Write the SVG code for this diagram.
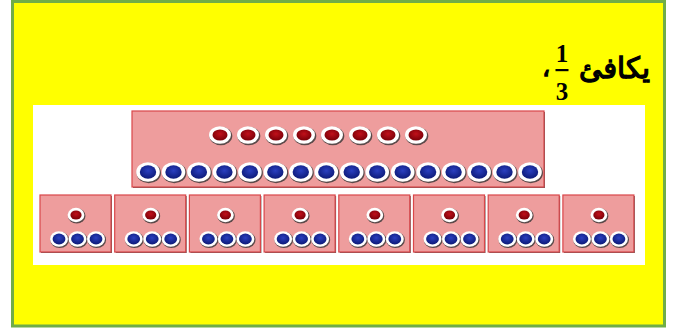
<svg xmlns="http://www.w3.org/2000/svg" xmlns:xlink="http://www.w3.org/1999/xlink" width="673" height="332" viewBox="0 0 673 332">
<style>
.box{fill:#EE9D9D;stroke:#D9474A;stroke-width:1.2}
.shadow{fill:#6b5a5a}
.ar{font-family:"DejaVu Sans",sans-serif;font-weight:normal;fill:#000;stroke:#000;stroke-width:1.3}
.num{font-family:"Liberation Serif",serif;font-weight:bold;font-size:25px;fill:#000;text-anchor:middle}
</style>
<defs>
<radialGradient id="gr" cx="50%" cy="40%" r="60%">
<stop offset="0" stop-color="#C0101A"/><stop offset="1" stop-color="#7A0008"/>
</radialGradient>
<radialGradient id="gb" cx="50%" cy="40%" r="60%">
<stop offset="0" stop-color="#2A3FC0"/><stop offset="1" stop-color="#0D1A78"/>
</radialGradient>
<g id="red">
<ellipse cx="0.8" cy="1" rx="11.5" ry="9.2" fill="#5a4a4a"/>
<ellipse cx="0" cy="0" rx="11" ry="8.8" fill="#fff"/>
<ellipse cx="0" cy="0" rx="7.5" ry="5.6" fill="url(#gr)"/>
</g>
<g id="blue">
<ellipse cx="0.8" cy="1" rx="12.2" ry="10.2" fill="#5a4a4a"/>
<ellipse cx="0" cy="0" rx="11.8" ry="9.8" fill="#fff"/>
<ellipse cx="0" cy="0" rx="8.2" ry="6.8" fill="url(#gb)"/>
</g>
<g id="reds">
<ellipse cx="0.7" cy="0.9" rx="8.8" ry="7.6" fill="#5a4a4a"/>
<ellipse cx="0" cy="0" rx="8.4" ry="7.2" fill="#fff"/>
<ellipse cx="0" cy="0" rx="5.6" ry="4.6" fill="url(#gr)"/>
</g>
<g id="blues">
<ellipse cx="0.7" cy="0.9" rx="9.4" ry="8.2" fill="#5a4a4a"/>
<ellipse cx="0" cy="0" rx="9" ry="7.8" fill="#fff"/>
<ellipse cx="0" cy="0" rx="6.4" ry="5.4" fill="url(#gb)"/>
</g>
<g id="small">
<rect x="1" y="1" width="71" height="57" class="shadow"/>
<rect x="0" y="0" width="71" height="57" class="box"/>
<use href="#reds" x="36" y="20"/>
<use href="#blues" x="19" y="44"/>
<use href="#blues" x="37.5" y="44"/>
<use href="#blues" x="56" y="44"/>
</g>
</defs>
<rect x="0" y="0" width="673" height="332" fill="#fff"/>
<rect x="12.5" y="1.5" width="652" height="324.5" fill="#FFFF00" stroke="#70AD47" stroke-width="3"/>
<g id="label">
<text class="ar" x="650" y="78" font-size="29" text-anchor="end">يكافئ</text>
<text class="num" x="562" y="62">1</text>
<rect x="555.5" y="69" width="13" height="2.2" fill="#000"/>
<text class="num" x="562" y="100">3</text>
<text class="ar" x="546" y="76" font-size="24" text-anchor="middle">،</text>
</g>
<rect x="33" y="105" width="612" height="160" fill="#fff"/>
<g id="whole">
<rect x="133" y="112" width="412" height="76" class="shadow"/>
<rect x="132" y="111" width="412" height="76" class="box"/>
<use href="#red" x="220" y="135"/>
<use href="#red" x="248" y="135"/>
<use href="#red" x="276" y="135"/>
<use href="#red" x="304" y="135"/>
<use href="#red" x="332" y="135"/>
<use href="#red" x="360" y="135"/>
<use href="#red" x="388" y="135"/>
<use href="#red" x="416" y="135"/>
<use href="#blue" x="148" y="172"/>
<use href="#blue" x="173.5" y="172"/>
<use href="#blue" x="198.9" y="172"/>
<use href="#blue" x="224.4" y="172"/>
<use href="#blue" x="249.9" y="172"/>
<use href="#blue" x="275.3" y="172"/>
<use href="#blue" x="300.8" y="172"/>
<use href="#blue" x="326.3" y="172"/>
<use href="#blue" x="351.7" y="172"/>
<use href="#blue" x="377.2" y="172"/>
<use href="#blue" x="402.7" y="172"/>
<use href="#blue" x="428.1" y="172"/>
<use href="#blue" x="453.6" y="172"/>
<use href="#blue" x="479.1" y="172"/>
<use href="#blue" x="504.5" y="172"/>
<use href="#blue" x="530" y="172"/>
</g>
<g id="part1"><use href="#small" x="40" y="195"/></g>
<g id="part2"><use href="#small" x="114.7" y="195"/></g>
<g id="part3"><use href="#small" x="189.4" y="195"/></g>
<g id="part4"><use href="#small" x="264.1" y="195"/></g>
<g id="part5"><use href="#small" x="338.8" y="195"/></g>
<g id="part6"><use href="#small" x="413.5" y="195"/></g>
<g id="part7"><use href="#small" x="488.2" y="195"/></g>
<g id="part8"><use href="#small" x="562.9" y="195"/></g>
</svg>
